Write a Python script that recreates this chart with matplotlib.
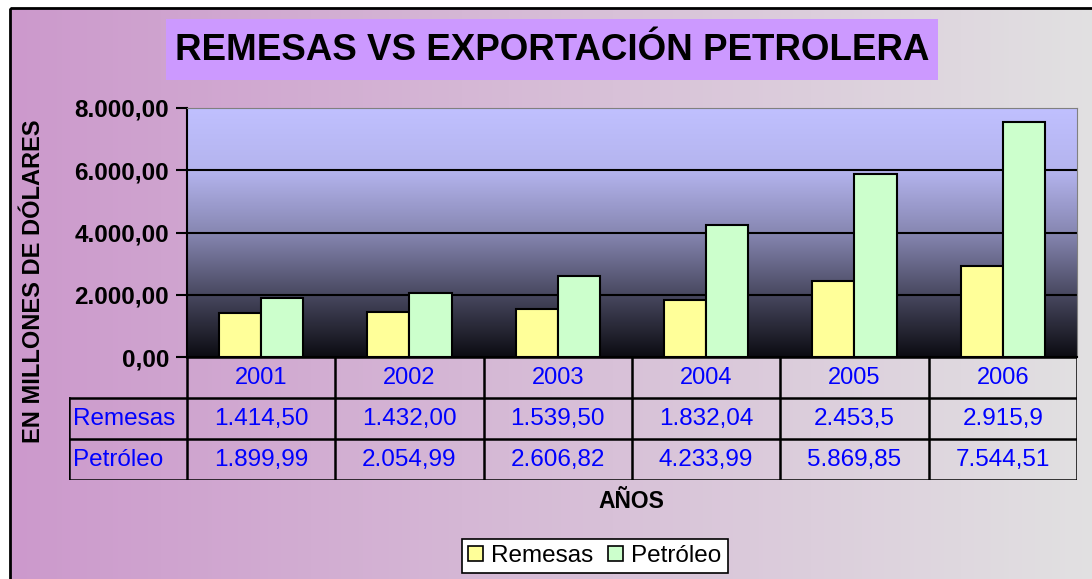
import numpy as np
import matplotlib
matplotlib.use('Agg')
import matplotlib.pyplot as plt
from matplotlib.patches import Rectangle, Patch
from matplotlib.ticker import FuncFormatter

plt.rcParams['font.family'] = ['Liberation Sans', 'DejaVu Sans']

# data
years = ['2001', '2002', '2003', '2004', '2005', '2006']
remesas = [1414.50, 1432.00, 1539.50, 1832.04, 2453.5, 2915.9]
petroleo = [1899.99, 2054.99, 2606.82, 4233.99, 5869.85, 7544.51]
remesas_txt = ['1.414,50', '1.432,00', '1.539,50', '1.832,04', '2.453,5', '2.915,9']
petroleo_txt = ['1.899,99', '2.054,99', '2.606,82', '4.233,99', '5.869,85', '7.544,51']
series_names = ['Remesas', 'Petróleo']
yticks = [0, 2000, 4000, 6000, 8000]

W, H = 1092, 579
fig = plt.figure(figsize=(W / 100, H / 100), dpi=100)

def fx(px):
    return px / W

def fy(py):
    return 1 - py / H

# background with horizontal gradient
bg = fig.add_axes([0, 0, 1, 1])
bg.set_xlim(0, W)
bg.set_ylim(H, 0)
bg.axis('off')
left_c = np.array([204, 153, 204]) / 255
right_c = np.array([226, 226, 226]) / 255
t = np.linspace(0, 1, 256)
grad = left_c[None, :] * (1 - t[:, None]) + right_c[None, :] * t[:, None]
bg.imshow(grad[None, :, :], extent=(10, W + 20, H + 20, 8), aspect='auto', zorder=0)
bg.add_patch(Rectangle((10, 8), W + 20, H + 20, fill=False, edgecolor='black', lw=2, zorder=1))

# title box
bg.add_patch(Rectangle((166, 19), 938 - 166, 80 - 19, facecolor='#CC99FF', edgecolor='none', zorder=1))
bg.text(552, 51, 'REMESAS VS EXPORTACIÓN PETROLERA', ha='center', va='center',
        fontsize=26.5, fontweight='bold', zorder=2)

# main plot
px_l, px_r, px_t, px_b = 187, 1077, 108, 357
ax = fig.add_axes([fx(px_l), fy(px_b), fx(px_r - px_l), (px_b - px_t) / H])
ax.set_facecolor('none')
# vertical gradient, colour stops
f = np.linspace(0, 1, 256)
stops = [0, 0.25, 0.5, 0.75, 1.0]
rg = [192, 180, 135, 72, 12]
bb = [255, 238, 178, 96, 18]
vgrad = np.stack([np.interp(f, stops, rg), np.interp(f, stops, rg),
                  np.interp(f, stops, bb)], axis=1) / 255
ax.imshow(vgrad[:, None, :], extent=(-0.5, 5.5, 0, 8000), aspect='auto', zorder=0)

x = np.arange(len(years))
bw = 0.285
ax.bar(x - bw / 2, remesas, bw, color='#FFFF99', edgecolor='black', lw=1.5, zorder=3)
ax.bar(x + bw / 2, petroleo, bw, color='#CCFFCC', edgecolor='black', lw=1.5, zorder=3)
for v in yticks[1:-1]:
    ax.axhline(v, color='black', lw=1.5, zorder=2)

ax.set_xlim(-0.5, 5.5)
ax.set_ylim(0, 8000)
ax.set_yticks(yticks)
ax.yaxis.set_major_formatter(FuncFormatter(
    lambda v, p: f'{v:,.2f}'.replace(',', 'X').replace('.', ',').replace('X', '.')))
ax.tick_params(axis='y', length=8, width=1.5, labelsize=17.5, pad=5)
for lab in ax.get_yticklabels():
    lab.set_fontweight('bold')
ax.set_xticks([])
ax.spines['left'].set_linewidth(1.5)
ax.spines['bottom'].set_linewidth(1.5)
ax.spines['top'].set_color('#808080')
ax.spines['right'].set_color('#808080')

# data table below the plot
tab_l, tab_b = 69, 480
tab = fig.add_axes([fx(tab_l), fy(tab_b), fx(px_r - tab_l), (tab_b - px_b) / H])
x0 = -0.5 - (px_l - tab_l) / ((px_r - px_l) / 6)
tab.set_xlim(x0, 5.5)
tab.set_ylim(3, 0)
tab.axis('off')
blue = '#0000FF'
lw = 1.8
fs = 17.5
tab.plot([-0.5, 5.5], [0, 0], color='black', lw=lw)
for yy in [1, 2, 3]:
    tab.plot([x0, 5.5], [yy, yy], color='black', lw=lw)
for xx in np.arange(-0.5, 6.0, 1.0):
    tab.plot([xx, xx], [0, 3], color='black', lw=lw)
tab.plot([x0, x0], [1, 3], color='black', lw=lw)
for i, yr in enumerate(years):
    tab.text(i, 0.52, yr, ha='center', va='center', color=blue, fontsize=17)
    tab.text(i, 1.52, remesas_txt[i], ha='center', va='center', color=blue, fontsize=fs)
    tab.text(i, 2.52, petroleo_txt[i], ha='center', va='center', color=blue, fontsize=fs)
tab.text(x0 + 0.03, 1.52, series_names[0], ha='left', va='center', color=blue, fontsize=17.5)
tab.text(x0 + 0.03, 2.52, series_names[1], ha='left', va='center', color=blue, fontsize=17.5)

# axis titles
fig.text(fx(631), fy(502), 'AÑOS', ha='center', va='center', fontsize=16.5, fontweight='bold')
fig.text(fx(34), fy(281), 'EN MILLONES DE DÓLARES', ha='center', va='center',
         rotation=90, fontsize=17, fontweight='bold')

# legend
handles = [Patch(facecolor='#FFFF99', edgecolor='black', lw=1.2),
           Patch(facecolor='#CCFFCC', edgecolor='black', lw=1.2)]
leg = fig.legend(handles, series_names, loc='center', bbox_to_anchor=(fx(595), fy(556)),
                 ncol=2, fontsize=17.5, frameon=True, fancybox=False, edgecolor='black',
                 handlelength=0.6, handleheight=0.6, handletextpad=0.35, columnspacing=0.6,
                 borderpad=0.25, borderaxespad=0)
leg.get_frame().set_linewidth(1.2)
leg.get_frame().set_facecolor('white')
leg.get_frame().set_alpha(1)

fig.savefig('out.png', dpi=100)
